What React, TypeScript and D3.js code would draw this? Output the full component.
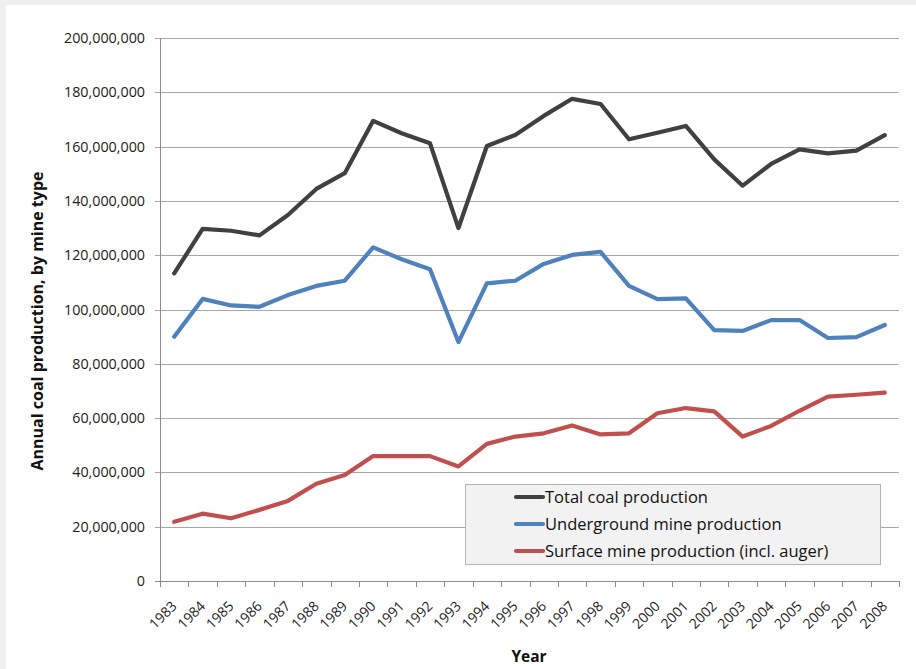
import React from "react";
import * as d3 from "d3";

const years: string[] = [
  "1983", "1984", "1985", "1986", "1987", "1988", "1989", "1990", "1991", "1992", "1993", "1994", "1995",
  "1996", "1997", "1998", "1999", "2000", "2001", "2002", "2003", "2004", "2005", "2006", "2007", "2008",
];

// Annual production, tons
const totalProduction: number[] = [
  113.3e6, 129.7e6, 129.0e6, 127.3e6, 134.8e6, 144.4e6, 150.2e6, 169.5e6, 164.9e6, 161.2e6, 130.0e6, 160.2e6, 164.3e6,
  171.3e6, 177.6e6, 175.7e6, 162.7e6, 165.1e6, 167.6e6, 155.3e6, 145.6e6, 153.6e6, 159.0e6, 157.5e6, 158.5e6, 164.2e6,
];
const undergroundProduction: number[] = [
  90.0e6, 103.9e6, 101.5e6, 101.0e6, 105.3e6, 108.7e6, 110.6e6, 122.9e6, 118.5e6, 114.8e6, 88.0e6, 109.6e6, 110.6e6,
  116.8e6, 120.1e6, 121.2e6, 108.7e6, 103.8e6, 104.1e6, 92.4e6, 92.1e6, 96.1e6, 96.1e6, 89.5e6, 89.8e6, 94.3e6,
];
const surfaceProduction: number[] = [
  21.8e6, 24.8e6, 23.1e6, 26.2e6, 29.5e6, 35.8e6, 39.0e6, 46.0e6, 46.0e6, 46.0e6, 42.2e6, 50.5e6, 53.2e6,
  54.4e6, 57.3e6, 54.0e6, 54.4e6, 61.8e6, 63.7e6, 62.5e6, 53.2e6, 57.1e6, 62.7e6, 67.9e6, 68.6e6, 69.4e6,
];

const yTicks: number[] = [0, 20e6, 40e6, 60e6, 80e6, 100e6, 120e6, 140e6, 160e6, 180e6, 200e6];

const seriesNames: string[] = [
  "Total coal production",
  "Underground mine production",
  "Surface mine production (incl. auger)",
];
const seriesColors: string[] = ["#404040", "#4f81bd", "#c0504d"];

const W = 916;
const H = 669;
const plot = { left: 160, right: 899, top: 38, bottom: 581 };
const font = "'Open Sans', 'Liberation Sans', sans-serif";

export default function App() {
  const x = d3.scaleBand<string>().domain(years).range([plot.left, plot.right]);
  const y = d3.scaleLinear().domain([0, 200e6]).range([plot.bottom, plot.top]);
  const fmt = d3.format(",");

  const line = d3
    .line<number>()
    .x((_, i) => (x(years[i]) as number) + x.bandwidth() / 2)
    .y((d) => y(d));

  const series = [totalProduction, undergroundProduction, surfaceProduction];
  const boundaries = d3.range(years.length + 1).map((i) => plot.left + i * x.step());

  const legend = { x: 465.5, y: 484.5, w: 415, h: 80 };

  return (
    <>
      <style>{`body{margin:0}`}</style>
      <svg width={W} height={H} style={{ display: "block" }}>
        <rect x={0} y={0} width={W} height={H} fill="#efefef" />
        <rect x={6} y={5} width={W - 6} height={H - 5} fill="#ffffff" />

        {/* horizontal gridlines */}
        {yTicks.map((t) => (
          <line
            key={"g" + t}
            x1={plot.left - 5}
            x2={plot.right}
            y1={Math.round(y(t)) + 0.5}
            y2={Math.round(y(t)) + 0.5}
            stroke={t === 0 ? "#8c8c8c" : "#a6a6a6"}
            strokeWidth={1}
          />
        ))}
        {/* value axis */}
        <line x1={plot.left + 0.5} x2={plot.left + 0.5} y1={plot.top} y2={plot.bottom} stroke="#8c8c8c" />
        {yTicks.map((t) => (
          <text
            key={"yl" + t}
            x={145}
            y={y(t)}
            dy="0.35em"
            textAnchor="end"
            fontFamily={font}
            fontSize={14.3}
            fill="#222"
          >
            {fmt(t)}
          </text>
        ))}

        {/* category ticks */}
        {boundaries.map((bx, i) => (
          <line
            key={"xt" + i}
            x1={Math.round(bx) + 0.5}
            x2={Math.round(bx) + 0.5}
            y1={plot.bottom}
            y2={plot.bottom + 6}
            stroke="#8c8c8c"
          />
        ))}
        {years.map((yr) => {
          const cx = (x(yr) as number) + x.bandwidth() / 2 + 3.5;
          const cy = plot.bottom + 26;
          return (
            <text
              key={"xl" + yr}
              transform={`translate(${cx},${cy}) rotate(-45)`}
              textAnchor="end"
              fontFamily={font}
              fontSize={14}
              fill="#222"
            >
              {yr}
            </text>
          );
        })}

        {/* series lines */}
        {series.map((s, i) => (
          <path
            key={"s" + i}
            d={line(s) as string}
            fill="none"
            stroke={seriesColors[i]}
            strokeWidth={4.2}
            strokeLinejoin="round"
            strokeLinecap="round"
          />
        ))}

        {/* legend */}
        <rect
          x={legend.x}
          y={legend.y}
          width={legend.w}
          height={legend.h}
          fill="#f2f2f2"
          stroke="#b4b4b4"
          strokeWidth={1}
        />
        {seriesNames.map((name, i) => {
          const ly = 497 + i * 27;
          return (
            <g key={"lg" + i}>
              <line x1={516} x2={543} y1={ly} y2={ly} stroke={seriesColors[i]} strokeWidth={4.2} strokeLinecap="round" />
              <text x={545} y={ly} dy="0.35em" fontFamily={font} fontSize={16.5} fill="#111">
                {name}
              </text>
            </g>
          );
        })}

        {/* axis titles */}
        <text
          x={529}
          y={657}
          dy="0.35em"
          textAnchor="middle"
          fontFamily={font}
          fontWeight="bold"
          fontSize={15.5}
          fill="#111"
        >
          Year
        </text>
        <text
          transform="translate(37,321) rotate(-90)"
          dy="0.35em"
          textAnchor="middle"
          fontFamily={font}
          fontWeight="bold"
          fontSize={16}
          fill="#111"
        >
          Annual coal production, by mine type
        </text>
      </svg>
    </>
  );
}
